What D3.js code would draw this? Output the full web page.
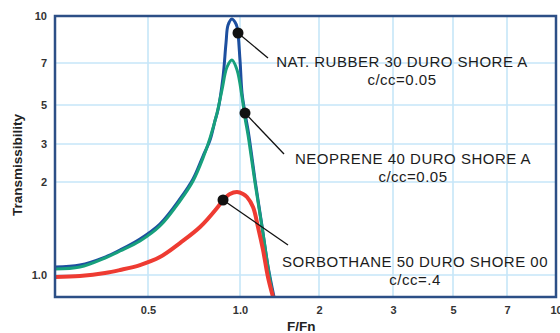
<!DOCTYPE html>
<html>
<head>
<meta charset="utf-8">
<script src="https://cdn.jsdelivr.net/npm/d3@7"></script>
<style>
  body { margin: 0; background: #fff; }
  text { font-family: "Liberation Sans", Arial, sans-serif; }
</style>
</head>
<body>
<div id="chart"></div>
<script>
// tick values and labels
const xTicks = [0.5, 1, 2, 3, 5, 7, 10]
const xTickLabels = ["0.5", "1.0", "2", "3", "5", "7", "10"]
const yTicks = [1, 2, 3, 5, 7, 10]
const yTickLabels = ["1.0", "2", "3", "5", "7", "10"]

// natural rubber 30 duro shore A
const rubberF = [0.25, 0.301, 0.363, 0.406, 0.471, 0.547, 0.636, 0.702, 0.757, 0.798, 0.828, 0.847, 0.88, 0.9, 0.914, 0.941, 0.963, 0.978, 1.0, 1.018, 1.045, 1.073, 1.101, 1.141, 1.213, 1.278, 1.348]
const rubberT = [1.061, 1.077, 1.143, 1.205, 1.308, 1.462, 1.762, 2.065, 2.64, 3.16, 4.06, 4.68, 6.26, 8.15, 9.34, 9.78, 9.55, 9.2, 7.16, 5.5, 4.5, 3.6, 2.81, 2.04, 1.44, 1.069, 0.85]

// neoprene 40 duro shore A
const neopreneF = [0.25, 0.301, 0.363, 0.406, 0.471, 0.547, 0.636, 0.702, 0.757, 0.798, 0.841, 0.873, 0.907, 0.941, 0.978, 1.018, 1.045, 1.073, 1.101, 1.141, 1.213, 1.278, 1.336]
const neopreneT = [1.046, 1.061, 1.135, 1.196, 1.289, 1.441, 1.736, 2.021, 2.585, 3.25, 4.5, 5.64, 6.78, 7.16, 6.62, 5.33, 4.22, 3.37, 2.67, 1.985, 1.43, 1.061, 0.85]

// sorbothane 50 duro shore 00
const sorbF = [0.25, 0.301, 0.363, 0.406, 0.471, 0.547, 0.636, 0.74, 0.841, 0.88, 0.927, 0.978, 1.027, 1.063, 1.121, 1.171, 1.224, 1.278, 1.336]
const sorbT = [0.985, 0.993, 1.015, 1.038, 1.077, 1.143, 1.269, 1.43, 1.648, 1.749, 1.829, 1.856, 1.829, 1.788, 1.66, 1.43, 1.205, 0.985, 0.85]

// annotation: dot on curve and label lines
const noteNames = ["NAT. RUBBER 30 DURO SHORE  A", "NEOPRENE 40 DURO SHORE A", "SORBOTHANE 50 DURO SHORE 00"]
const noteDamping = ["c/cc=0.05", "c/cc=0.05", "c/cc=.4"]
const noteDotF = [0.985, 1.045, 0.88]
const noteDotT = [8.79, 4.5, 1.749]

// layout
const width = 560
const height = 333
const plotLeft = 55, plotRight = 556, plotTop = 16, plotBottom = 297
// the original grid is hand drawn, so the log axes are piecewise
const xStops = [plotLeft, 148, 240, 319, 393, 453, 507, plotRight]
const yStops = [plotBottom, 275, 182, 144, 105, 63, plotTop]
const colors = ["#1d4f9f", "#17a07c", "#ee3b32"]
const noteText = [{x: 402, y: 67}, {x: 413, y: 164}, {x: 415, y: 267}]
const noteLineEnd = [{x: 268, y: 58}, {x: 284, y: 154}, {x: 288, y: 245}]

const svg = d3.select("#chart").append("svg")
    .attr("width", width)
    .attr("height", height)

const x = d3.scaleLog()
    .domain([0.25].concat(xTicks))
    .range(xStops)
const y = d3.scaleLog()
    .domain([0.85].concat(yTicks))
    .range(yStops)

svg.append("defs").append("clipPath").attr("id", "plot-clip")
    .append("rect")
    .attr("x", plotLeft).attr("y", plotTop)
    .attr("width", plotRight - plotLeft).attr("height", plotBottom - plotTop)

// grid lines
const grid = svg.append("g")
grid.selectAll(".gx").data(xTicks).join("line")
    .attr("x1", d => x(d)).attr("x2", d => x(d))
    .attr("y1", plotTop).attr("y2", plotBottom)
    .attr("stroke", "#c6e6f8").attr("stroke-width", 1.6)
grid.selectAll(".gy").data(yTicks).join("line")
    .attr("x1", plotLeft).attr("x2", plotRight)
    .attr("y1", d => y(d)).attr("y2", d => y(d))
    .attr("stroke", "#c6e6f8").attr("stroke-width", 1.6)

// axis labels
svg.append("g")
    .attr("transform", "translate(0," + plotBottom + ")")
    .call(d3.axisBottom(x).tickValues(xTicks).tickSize(0).tickPadding(9)
        .tickFormat((d, i) => xTickLabels[i]))
svg.append("g")
    .attr("transform", "translate(" + plotLeft + ",0)")
    .call(d3.axisLeft(y).tickValues(yTicks).tickSize(0).tickPadding(8)
        .tickFormat((d, i) => yTickLabels[i]))
svg.selectAll(".domain").remove()
svg.selectAll(".tick text")
    .attr("font-size", 11)
    .attr("font-weight", "bold")
    .attr("fill", "#333")
    .attr("font-family", "'Liberation Sans', Arial, sans-serif")

// curves
const line = d3.line()
    .x(d => x(d[0]))
    .y(d => y(d[1]))
    .curve(d3.curveCatmullRom.alpha(0.5))

const series = [
    d3.zip(rubberF, rubberT),
    d3.zip(neopreneF, neopreneT),
    d3.zip(sorbF, sorbT)
]
const widths = [3, 3, 4]

svg.append("g").attr("clip-path", "url(#plot-clip)")
    .selectAll("path").data(series).join("path")
    .attr("d", line)
    .attr("fill", "none")
    .attr("stroke", (d, i) => colors[i])
    .attr("stroke-width", (d, i) => widths[i])
    .attr("stroke-linejoin", "round")

// frame
svg.append("rect")
    .attr("x", plotLeft).attr("y", plotTop)
    .attr("width", plotRight - plotLeft).attr("height", plotBottom - plotTop)
    .attr("fill", "none")
    .attr("stroke", "#2c4f86")
    .attr("stroke-width", 2.5)

// annotations
noteNames.forEach((name, i) => {
    const cx = x(noteDotF[i]), cy = y(noteDotT[i])
    svg.append("line")
        .attr("x1", cx).attr("y1", cy)
        .attr("x2", noteLineEnd[i].x).attr("y2", noteLineEnd[i].y)
        .attr("stroke", "#111").attr("stroke-width", 1.3)
    svg.append("circle")
        .attr("cx", cx).attr("cy", cy).attr("r", 5.5)
        .attr("fill", "#111")
    svg.append("text")
        .attr("x", noteText[i].x).attr("y", noteText[i].y)
        .attr("text-anchor", "middle")
        .attr("font-size", 15)
        .attr("letter-spacing", 0.5)
        .attr("fill", "#1c1c1c")
        .text(name)
    svg.append("text")
        .attr("x", noteText[i].x).attr("y", noteText[i].y + 18)
        .attr("text-anchor", "middle")
        .attr("font-size", 15)
        .attr("letter-spacing", 0.5)
        .attr("fill", "#1c1c1c")
        .text(noteDamping[i])
})

// axis titles
svg.append("text")
    .attr("transform", "translate(22,165) rotate(-90)")
    .attr("text-anchor", "middle")
    .attr("font-size", 13.5)
    .attr("font-weight", "bold")
    .attr("fill", "#222")
    .text("Transmissibility")

svg.append("text")
    .attr("x", 287).attr("y", 331)
    .attr("font-size", 13.5)
    .attr("font-weight", "bold")
    .attr("fill", "#222")
    .text("F/Fn")
</script>
</body>
</html>
